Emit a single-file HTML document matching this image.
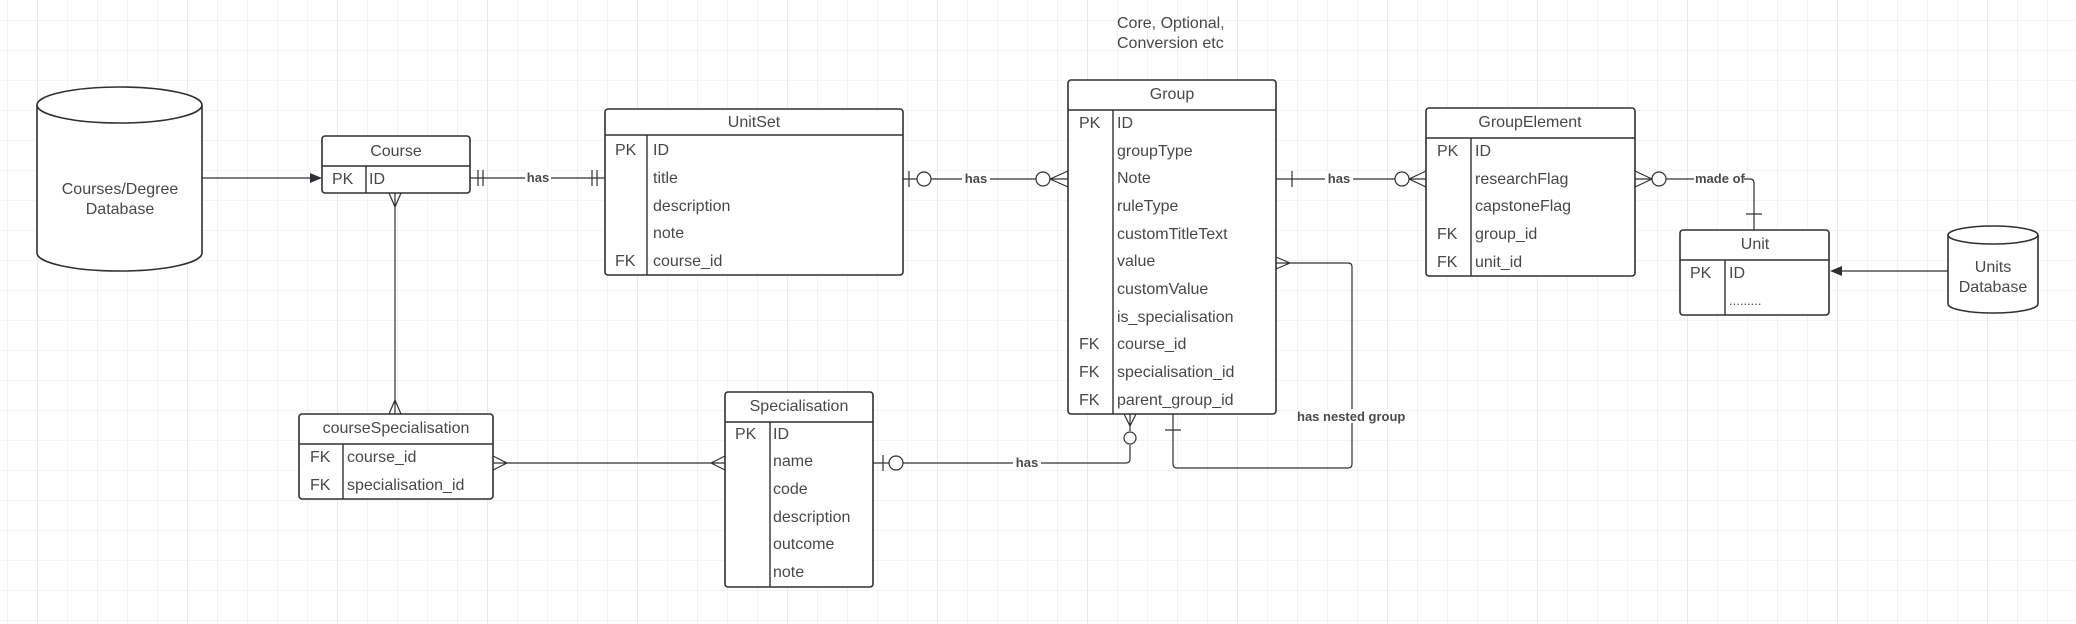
<!DOCTYPE html>
<html><head><meta charset="utf-8"><style>
html,body{margin:0;padding:0;background:#fff}
svg{display:block}
text{font-family:"Liberation Sans",sans-serif;fill:#484848}
.t{font-size:16px}
.h{font-size:16px;text-anchor:middle}
.b{font-size:13px;font-weight:bold;fill:#4a4a4a}
.box{fill:#fff;stroke:#2f3033;stroke-width:1.6}
.ln{stroke:#2f3033;stroke-width:1.2;fill:none}
.lb{stroke:#2f3033;stroke-width:1.4;fill:none}
</style></head><body>
<svg width="2076" height="624" viewBox="0 0 2076 624" xmlns="http://www.w3.org/2000/svg">
<defs>
<pattern id="g" x="7" y="20" width="30" height="30" patternUnits="userSpaceOnUse">
<path d="M0 0V30M0 0H30" stroke="#ececec" stroke-width="1.3" fill="none"/>
</pattern>
<pattern id="G" x="37" y="20" width="150" height="3000" patternUnits="userSpaceOnUse">
<path d="M0 0V3000" stroke="#e3e3e3" stroke-width="1.4" fill="none"/>
</pattern>
</defs>
<rect width="2076" height="624" fill="url(#g)"/>
<rect width="2076" height="624" fill="url(#G)"/>

<!-- Courses DB cylinder -->
<path class="box" d="M37 105 V253 A82.5 18 0 0 0 202 253 V105"/>
<ellipse class="box" cx="119.5" cy="105" rx="82.5" ry="18"/>
<text class="h" x="120" y="194">Courses/Degree</text>
<text class="h" x="120" y="214">Database</text>
<path class="ln" d="M202 178H313"/>
<path d="M322 178L310 173V183Z" fill="#2f3033"/>

<!-- Course -->
<rect class="box" x="322" y="136" width="148" height="57" rx="3"/>
<path class="lb" d="M322 166H470M366 166V193"/>
<text class="h" x="396" y="156">Course</text>
<text class="t" x="332" y="184">PK</text><text class="t" x="369" y="184">ID</text>

<!-- Course - UnitSet -->
<path class="ln" d="M470 178H605M478 170V186M483 170V186M592 170V186M597 170V186"/>
<rect x="525" y="170" width="26" height="14" fill="#fff"/>
<text class="b" x="538" y="182" text-anchor="middle">has</text>

<!-- UnitSet -->
<rect class="box" x="605" y="109" width="298" height="166" rx="3"/>
<path class="lb" d="M605 135H903M647 135V275"/>
<text class="h" x="754" y="127">UnitSet</text>
<text class="t" x="615" y="155">PK</text><text class="t" x="653" y="155">ID</text>
<text class="t" x="653" y="183">title</text>
<text class="t" x="653" y="211">description</text>
<text class="t" x="653" y="238">note</text>
<text class="t" x="615" y="266">FK</text><text class="t" x="653" y="266">course_id</text>

<!-- UnitSet - Group -->
<path class="ln" d="M903 179H917M931 179H1036M1050 179H1068M909 171V187M1050 179L1068 171M1050 179L1068 187"/>
<circle class="ln" cx="924" cy="179" r="7"/>
<circle class="ln" cx="1043" cy="179" r="7"/>
<rect x="962" y="171" width="28" height="14" fill="#fff"/>
<text class="b" x="976" y="183" text-anchor="middle">has</text>

<!-- note -->
<text class="t" x="1117" y="28">Core, Optional,</text>
<text class="t" x="1117" y="48">Conversion etc</text>

<!-- Group -->
<rect class="box" x="1068" y="80" width="208" height="334" rx="3"/>
<path class="lb" d="M1068 110H1276M1113 110V414"/>
<text class="h" x="1172" y="99">Group</text>
<text class="t" x="1079" y="128">PK</text><text class="t" x="1117" y="128">ID</text>
<text class="t" x="1117" y="156">groupType</text>
<text class="t" x="1117" y="183">Note</text>
<text class="t" x="1117" y="211">ruleType</text>
<text class="t" x="1117" y="239">customTitleText</text>
<text class="t" x="1117" y="266">value</text>
<text class="t" x="1117" y="294">customValue</text>
<text class="t" x="1117" y="322">is_specialisation</text>
<text class="t" x="1079" y="349">FK</text><text class="t" x="1117" y="349">course_id</text>
<text class="t" x="1079" y="377">FK</text><text class="t" x="1117" y="377">specialisation_id</text>
<text class="t" x="1079" y="405">FK</text><text class="t" x="1117" y="405">parent_group_id</text>

<!-- Group - GroupElement -->
<path class="ln" d="M1276 179H1395M1409 179H1426M1292 171V187M1409 179L1426 171M1409 179L1426 187"/>
<circle class="ln" cx="1402" cy="179" r="7"/>
<rect x="1325" y="171" width="28" height="14" fill="#fff"/>
<text class="b" x="1339" y="183" text-anchor="middle">has</text>

<!-- nested group -->
<path class="ln" d="M1276 263H1348Q1352 263 1352 267V464Q1352 468 1348 468H1177Q1173 468 1173 464V414M1165 430H1181M1290 263L1276 257M1290 263L1276 269"/>
<rect x="1296" y="409" width="112" height="14" fill="#fff"/>
<text class="b" x="1297" y="421">has nested group</text>

<!-- GroupElement -->
<rect class="box" x="1426" y="108" width="209" height="168" rx="3"/>
<path class="lb" d="M1426 138H1635M1471 138V276"/>
<text class="h" x="1530" y="127">GroupElement</text>
<text class="t" x="1437" y="156">PK</text><text class="t" x="1475" y="156">ID</text>
<text class="t" x="1475" y="184">researchFlag</text>
<text class="t" x="1475" y="211">capstoneFlag</text>
<text class="t" x="1437" y="239">FK</text><text class="t" x="1475" y="239">group_id</text>
<text class="t" x="1437" y="267">FK</text><text class="t" x="1475" y="267">unit_id</text>

<!-- made of -->
<path class="ln" d="M1635 179H1652M1666 179H1750Q1754 179 1754 183V230M1746 214H1762M1652 179L1635 171M1652 179L1635 187"/>
<circle class="ln" cx="1659" cy="179" r="7"/>
<rect x="1694" y="172" width="50" height="14" fill="#fff"/>
<text class="b" x="1695" y="183">made of</text>

<!-- Unit -->
<rect class="box" x="1680" y="230" width="149" height="85" rx="3"/>
<path class="lb" d="M1680 260H1829M1725 260V315"/>
<text class="h" x="1755" y="249">Unit</text>
<text class="t" x="1690" y="278">PK</text><text class="t" x="1729" y="278">ID</text>
<text class="t" x="1729" y="305" style="font-size:13px">.........</text>

<!-- Units DB -->
<path class="box" d="M1948 235V304A45 9 0 0 0 2038 304V235"/>
<ellipse class="box" cx="1993" cy="235" rx="45" ry="9"/>
<text class="h" x="1993" y="272">Units</text>
<text class="h" x="1993" y="292">Database</text>
<path class="ln" d="M1948 271H1840"/>
<path d="M1830 271L1842 266V276Z" fill="#2f3033"/>

<!-- Course - courseSpecialisation -->
<path class="ln" d="M395 193V414M395 207L389 193M395 207L401 193M395 400L389 414M395 400L401 414"/>

<!-- courseSpecialisation -->
<rect class="box" x="299" y="414" width="194" height="85" rx="3"/>
<path class="lb" d="M299 444H493M343 444V499"/>
<text class="h" x="396" y="433">courseSpecialisation</text>
<text class="t" x="310" y="462">FK</text><text class="t" x="347" y="462">course_id</text>
<text class="t" x="310" y="490">FK</text><text class="t" x="347" y="490">specialisation_id</text>

<!-- cS - Specialisation -->
<path class="ln" d="M493 463H725M507 463L493 456M507 463L493 470M711 463L725 456M711 463L725 470"/>

<!-- Specialisation -->
<rect class="box" x="725" y="392" width="148" height="195" rx="3"/>
<path class="lb" d="M725 422H873M770 422V587"/>
<text class="h" x="799" y="411">Specialisation</text>
<text class="t" x="735" y="439">PK</text><text class="t" x="773" y="439">ID</text>
<text class="t" x="773" y="466">name</text>
<text class="t" x="773" y="494">code</text>
<text class="t" x="773" y="522">description</text>
<text class="t" x="773" y="549">outcome</text>
<text class="t" x="773" y="577">note</text>

<!-- Spec - Group -->
<path class="ln" d="M873 463H889M903 463H1126Q1130 463 1130 459V445M1130 431V414M883 455V471M1130 426L1124 414M1130 426L1136 414"/>
<circle class="ln" cx="896" cy="463" r="7"/>
<circle class="ln" cx="1130" cy="438" r="6"/>
<rect x="1013" y="455" width="28" height="14" fill="#fff"/>
<text class="b" x="1027" y="467" text-anchor="middle">has</text>
</svg>
</body></html>
